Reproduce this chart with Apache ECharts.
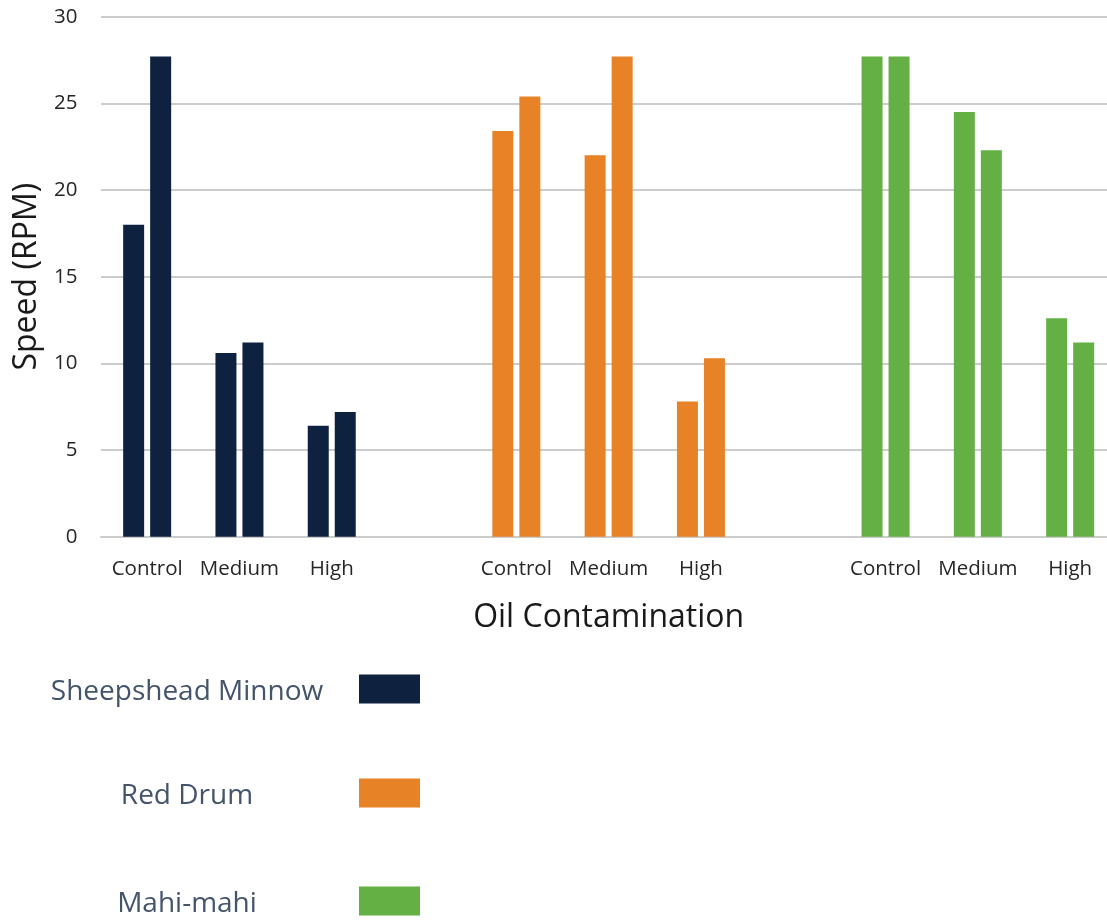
<!DOCTYPE html>
<html>
<head>
<meta charset="utf-8">
<title>Speed by oil contamination</title>
<script src="https://cdn.jsdelivr.net/npm/echarts@6/dist/echarts.min.js"></script>
<style>
  html, body { margin: 0; padding: 0; background: #ffffff; }
  #chart { width: 1107px; height: 920px; }
</style>
</head>
<body>
<div id="chart"></div>
<script>
// Treatment levels shown under each species block
const levels = ['Control', 'Medium', 'High'];

// Species names (legend order)
const species = ['Sheepshead Minnow', 'Red Drum', 'Mahi-mahi'];

// Speed (RPM), first and second bar of each treatment
const minnowFirst  = [18.0, 10.6, 6.4];
const minnowSecond = [27.7, 11.2, 7.2];
const drumFirst    = [23.4, 22.0, 7.8];
const drumSecond   = [25.4, 27.7, 10.3];
const mahiFirst    = [27.7, 24.5, 12.6];
const mahiSecond   = [27.7, 22.3, 11.2];

// Y axis ticks
const yTicks = [0, 5, 10, 15, 20, 25, 30];

const colors = ['#0E2240', '#E88226', '#65B045'];
const FONT = 'Open Sans';

// Category slots: three species blocks separated by one empty slot
const categories = [];
species.forEach((s, i) => {
  if (i > 0) categories.push('');
  levels.forEach(l => categories.push(l));
});

function place(values, blockIndex) {
  const out = categories.map(() => null);
  const offset = blockIndex * (levels.length + 1);
  values.forEach((v, k) => { out[offset + k] = v; });
  return out;
}

const pairs = [
  [minnowFirst, minnowSecond],
  [drumFirst, drumSecond],
  [mahiFirst, mahiSecond]
];

const series = [];
pairs.forEach((pair, i) => {
  pair.forEach((vals, j) => {
    series.push({
      name: species[i],
      type: 'bar',
      stack: j === 0 ? 'first' : 'second',
      barWidth: 21,
      barGap: '28.6%',
      itemStyle: { color: colors[i] },
      emphasis: { disabled: true },
      data: place(vals, i)
    });
  });
});

const legendTops = [671.5, 775.5, 883.5];
const legends = species.map((name, i) => ({
  data: [name],
  left: 20,
  top: legendTops[i],
  padding: 0,
  align: 'right',
  icon: 'rect',
  itemWidth: 61,
  itemHeight: 29,
  selectedMode: false,
  formatter: '{t|{name}}',
  textStyle: {
    rich: {
      t: {
        width: 334,
        align: 'center',
        lineHeight: 29,
        padding: [7, 0, 0, 0],
        fontSize: 28,
        fontFamily: FONT,
        color: '#44546A'
      }
    }
  }
}));

const chart = echarts.init(document.getElementById('chart'), null, { renderer: 'canvas' });
chart.setOption({
  backgroundColor: '#ffffff',
  animation: false,
  textStyle: { fontFamily: FONT },
  grid: {
    left: 101, width: 1015.3, top: 16.7, height: 520,
    containLabel: false, outerBoundsMode: 'none'
  },
  legend: legends,
  xAxis: {
    type: 'category',
    data: categories,
    name: 'Oil Contamination',
    nameLocation: 'middle',
    nameGap: 65,
    nameTextStyle: { fontSize: 32, fontFamily: FONT, color: '#1a1a1a' },
    axisLine: { show: true, lineStyle: { color: '#cccccc', width: 2 } },
    axisTick: { show: false },
    axisLabel: { interval: 0, margin: 22, fontSize: 20.5, fontFamily: FONT, color: '#262626' },
    splitLine: { show: false }
  },
  yAxis: {
    type: 'value',
    min: yTicks[0],
    max: yTicks[yTicks.length - 1],
    interval: yTicks[1] - yTicks[0],
    name: 'Speed (RPM)',
    nameLocation: 'middle',
    nameGap: 57,
    nameTextStyle: { fontSize: 32, fontFamily: FONT, color: '#1a1a1a' },
    axisLine: { show: false },
    axisTick: { show: false },
    axisLabel: { margin: 23.5, fontSize: 20.5, fontFamily: FONT, color: '#262626' },
    splitLine: { show: true, lineStyle: { color: '#cccccc', width: 2 } }
  },
  series: series
});
</script>
</body>
</html>
